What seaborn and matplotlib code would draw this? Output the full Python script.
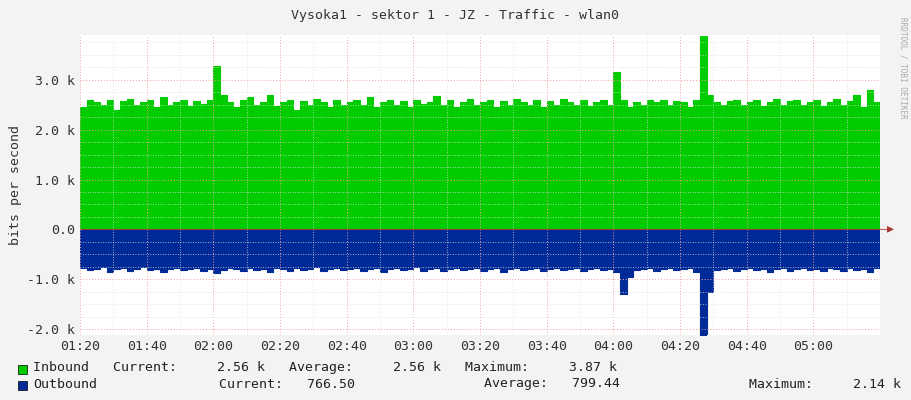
import matplotlib
matplotlib.use("Agg")
import matplotlib.pyplot as plt
import seaborn as sns
import numpy as np
import pandas as pd

tick_labels = ["01:20","01:40","02:00","02:20","02:40","03:00","03:20","03:40","04:00","04:20","04:40","05:00"]
inbound = [2.45,2.6,2.55,2.5,2.6,2.4,2.58,2.62,2.5,2.55,
2.6,2.45,2.65,2.5,2.55,2.6,2.48,2.58,2.52,2.6,
3.27,2.7,2.55,2.45,2.6,2.65,2.5,2.55,2.7,2.48,
2.55,2.6,2.4,2.58,2.5,2.62,2.55,2.45,2.6,2.5,
2.55,2.6,2.5,2.65,2.45,2.55,2.6,2.5,2.58,2.45,
2.6,2.52,2.55,2.68,2.5,2.6,2.45,2.55,2.62,2.5,
2.55,2.6,2.45,2.58,2.5,2.62,2.55,2.5,2.6,2.45,
2.58,2.5,2.62,2.55,2.5,2.6,2.48,2.55,2.6,2.5,
3.15,2.6,2.45,2.55,2.5,2.6,2.55,2.6,2.5,2.58,
2.55,2.45,2.6,3.87,2.7,2.55,2.5,2.58,2.6,2.5,
2.55,2.6,2.48,2.55,2.62,2.5,2.58,2.6,2.5,2.55,
2.6,2.48,2.55,2.62,2.5,2.58,2.7,2.45,2.8,2.56]
outbound = [-0.78,-0.82,-0.8,-0.76,-0.85,-0.8,-0.78,-0.83,-0.8,-0.76,
-0.82,-0.79,-0.86,-0.8,-0.77,-0.82,-0.8,-0.78,-0.84,-0.8,
-0.87,-0.82,-0.78,-0.8,-0.83,-0.77,-0.81,-0.8,-0.85,-0.78,
-0.8,-0.83,-0.78,-0.82,-0.8,-0.76,-0.84,-0.8,-0.78,-0.82,
-0.8,-0.77,-0.83,-0.8,-0.78,-0.85,-0.8,-0.78,-0.82,-0.8,
-0.76,-0.83,-0.8,-0.78,-0.84,-0.8,-0.77,-0.82,-0.8,-0.78,
-0.83,-0.8,-0.78,-0.85,-0.8,-0.77,-0.82,-0.8,-0.78,-0.84,
-0.8,-0.78,-0.82,-0.8,-0.77,-0.83,-0.8,-0.78,-0.82,-0.8,
-0.85,-1.3,-0.95,-0.82,-0.8,-0.78,-0.84,-0.8,-0.77,-0.82,
-0.8,-0.78,-0.85,-2.14,-1.25,-0.82,-0.8,-0.78,-0.84,-0.8,
-0.78,-0.82,-0.8,-0.86,-0.8,-0.78,-0.83,-0.8,-0.77,-0.82,
-0.8,-0.84,-0.78,-0.8,-0.83,-0.78,-0.82,-0.8,-0.86,-0.77]

step = 2
x = np.arange(len(inbound) + 1) * step
df = pd.DataFrame({"t": x, "in": inbound + [inbound[-1]], "out": outbound + [outbound[-1]]})

sns.set_style("white")
plt.rcParams['font.family'] = ['DejaVu Sans Mono']
fig = plt.figure(figsize=(9.11, 4.0), dpi=100, facecolor="#f3f3f3")
ax = fig.add_axes([80/911, 65/400, 800/911, 300/400])
ax.set_facecolor("white")

ax.fill_between(df["t"], 0, df["in"], step="post", color="#00cc00", linewidth=0)
ax.fill_between(df["t"], 0, df["out"], step="post", color="#002a97", linewidth=0)
sns.lineplot(data=df, x="t", y="in", drawstyle="steps-post", color="#00cc00", lw=0.8, ax=ax)
sns.lineplot(data=df, x="t", y="out", drawstyle="steps-post", color="#002a97", lw=0.8, ax=ax)

ax.set_xlim(0, 240)
ax.set_ylim(-2.12, 3.9)
ax.set_xticks(np.arange(0, 240, 20))
ax.set_xticklabels(tick_labels)
ax.set_xticks(np.arange(0, 241, 10), minor=True)
ax.set_yticks([-2, -1, 0, 1, 2, 3])
ax.set_yticklabels(["-2.0 k", "-1.0 k", "0.0", "1.0 k", "2.0 k", "3.0 k"])
ax.set_yticks(np.arange(-2, 3.9, 0.25), minor=True)
ax.grid(which="minor", color="#dddddd", ls=(0, (1, 2)), lw=0.6)
ax.grid(which="major", color="#f0a0a0", ls=(0, (1, 2)), lw=0.7)
ax.set_axisbelow(False)
for s in ax.spines.values():
    s.set_visible(False)
ax.axhline(0, color="#cc0000", lw=0.5)
ax.tick_params(axis="both", which="both", length=0, labelsize=9.5, colors="#333333")
ax.set_xlabel("")
ax.set_ylabel("bits per second", fontsize=9.5, color="#333333")
ax.annotate("", xy=(245, 0), xytext=(0, 0), xycoords=("data", "data"),
            arrowprops=dict(arrowstyle="-|>", color="#aa3333", lw=0.6), annotation_clip=False)

fig.text(455/911, 1 - 15/400, "Vysoka1 - sektor 1 - JZ - Traffic - wlan0", ha="center", va="center", fontsize=9.5, color="#333333")
fig.text(903/911, 0.83, "RRDTOOL / TOBI OETIKER", rotation=270, ha="center", va="center", fontsize=5.5, color="#aaaaaa")

fig.patches.append(plt.Rectangle((18/911, 1 - 374/400), 9/911, 9/400, transform=fig.transFigure, color="#00cc00", ec="black", lw=0.5))
fig.patches.append(plt.Rectangle((18/911, 1 - 390/400), 9/911, 9/400, transform=fig.transFigure, color="#002a97", ec="black", lw=0.5))
fig.text(33/911, 1 - 368/400, "Inbound   Current:     2.56 k   Average:     2.56 k   Maximum:     3.87 k", va="center", fontsize=9.5, color="#222222")
fig.text(33/911, 1 - 384/400, "Outbound", va="center", fontsize=9.5, color="#222222")
fig.text(219/911, 1 - 384/400, "Current:   766.50", va="center", fontsize=9.5, color="#222222")
fig.text(484/911, 1 - 384/400, "Average:   799.44", va="center", fontsize=9.5, color="#222222")
fig.text(749/911, 1 - 384/400, "Maximum:     2.14 k", va="center", fontsize=9.5, color="#222222")

fig.savefig("out.png", dpi=100, facecolor=fig.get_facecolor())
